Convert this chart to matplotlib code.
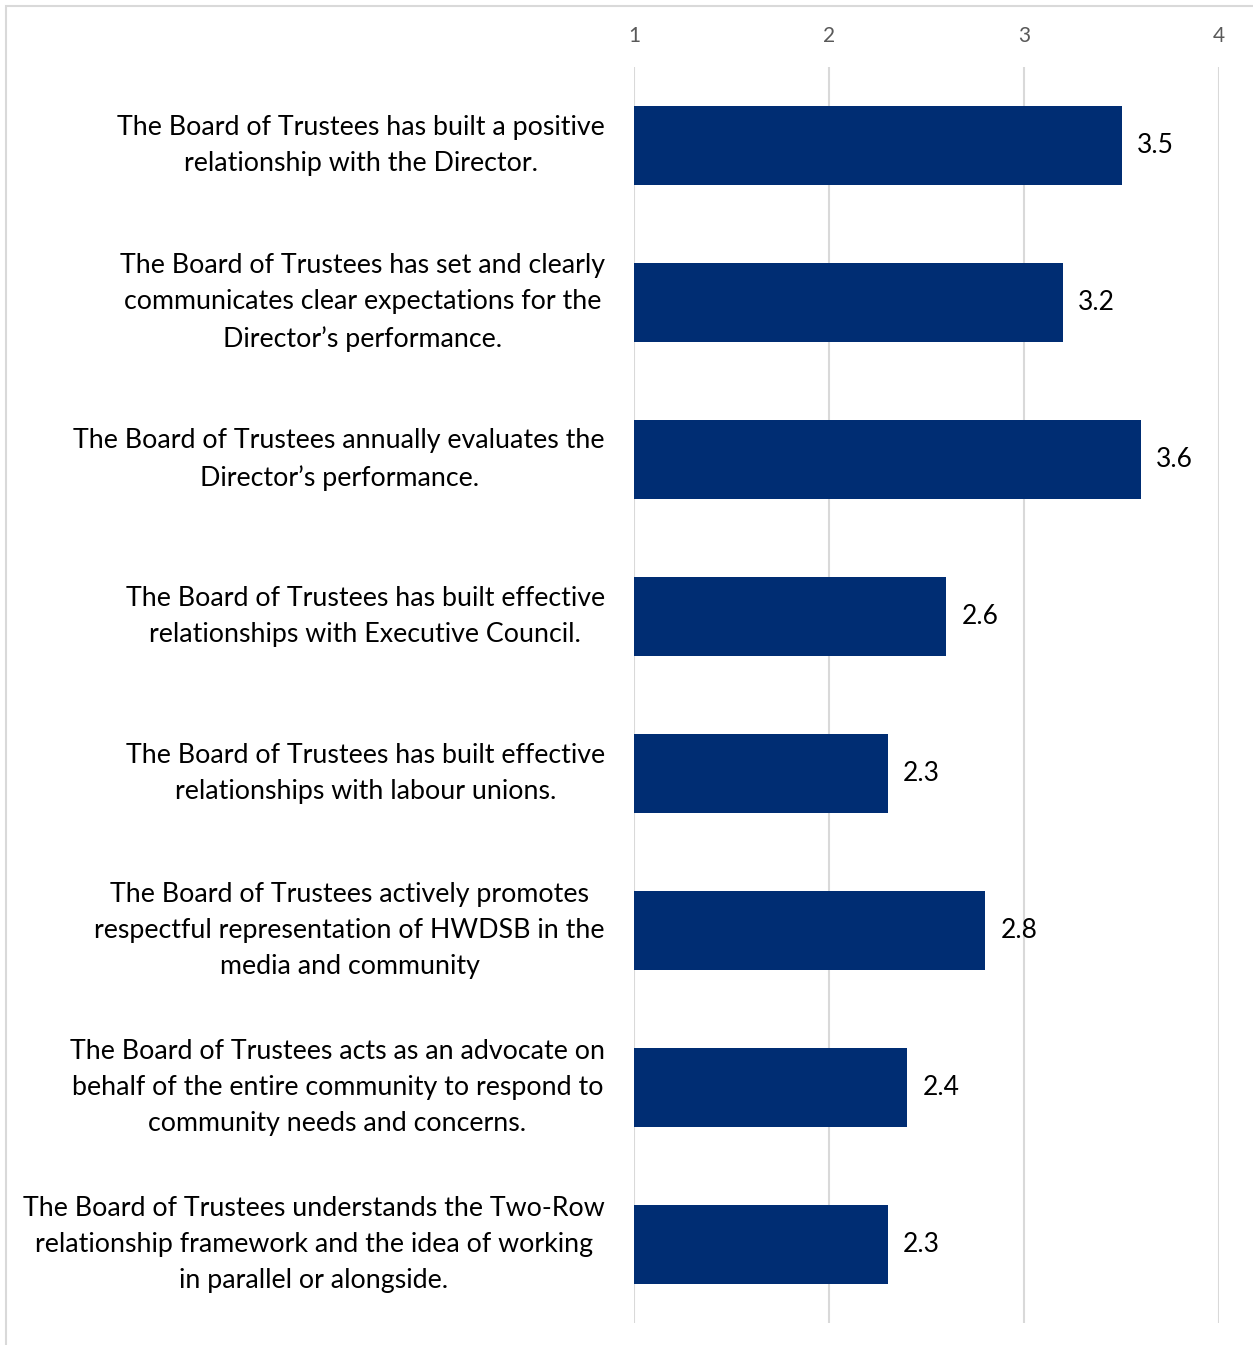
import numpy as np
import matplotlib.pyplot as plt
from matplotlib.patches import Rectangle

plt.rcParams['font.family'] = ['Lato', 'DejaVu Sans']

# survey statements (top to bottom) and their mean ratings
statements = [
    "The Board of Trustees has built a positive\nrelationship with the Director.",
    "The Board of Trustees has set and clearly\ncommunicates clear expectations for the\nDirector\u2019s performance.",
    "The Board of Trustees annually evaluates the\nDirector\u2019s performance.",
    "The Board of Trustees has built effective\nrelationships with Executive Council.",
    "The Board of Trustees has built effective\nrelationships with labour unions.",
    "The Board of Trustees actively promotes\nrespectful representation of HWDSB in the\nmedia and community",
    "The Board of Trustees acts as an advocate on\nbehalf of the entire community to respond to\ncommunity needs and concerns.",
    "The Board of Trustees understands the Two-Row\nrelationship framework and the idea of working\nin parallel or alongside.",
]
ratings = [3.5, 3.2, 3.6, 2.6, 2.3, 2.8, 2.4, 2.3]
scale_ticks = [1, 2, 3, 4]

BAR_COLOR = '#002D73'
GRID_COLOR = '#D9D9D9'

W, H = 1253, 1345
fig = plt.figure(figsize=(W / 100, H / 100), dpi=100)
ax = fig.add_axes([634 / W, 1 - 1323 / H, (1219 - 634) / W, (1323 - 67) / H])

# thin frame around the chart area
fig.patches.append(Rectangle((6 / W, -0.1), 1.2, 1 - 6 / H + 0.1,
                             transform=fig.transFigure, fill=False,
                             edgecolor=GRID_COLOR, linewidth=1.5))

y = np.arange(len(statements))
bars = ax.barh(y, ratings, height=0.5, color=BAR_COLOR, zorder=2)
ax.bar_label(bars, labels=[f'{v:.1f}' for v in ratings], padding=11,
             fontsize=19, color='black')

ax.set_xlim(1, 4)
ax.set_ylim(len(statements) - 0.5, -0.5)
ax.set_xticks(scale_ticks)
ax.xaxis.tick_top()
ax.tick_params(axis='x', length=0, pad=15, labelsize=15, labelcolor='#595959')
ax.set_yticks(y)
ax.set_yticklabels(statements, fontsize=19.3, multialignment='center',
                   linespacing=1.55, va='center')
ax.tick_params(axis='y', length=0, pad=21)
ax.grid(axis='x', color=GRID_COLOR, linewidth=1.5, zorder=0)
for s in ax.spines.values():
    s.set_visible(False)

fig.savefig('out.png', dpi=100)
